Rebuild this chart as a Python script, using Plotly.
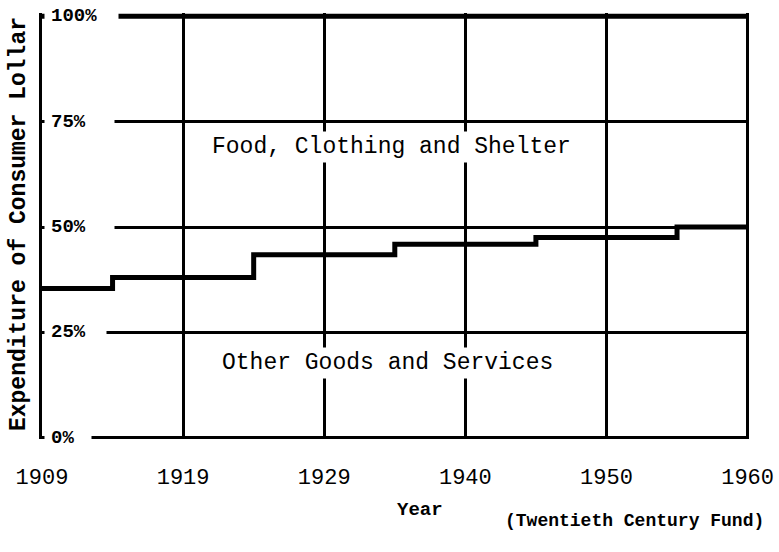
import plotly.graph_objects as go

# ---- data ----
years = ["1909", "1919", "1929", "1940", "1950", "1960"]
other_goods_share = [35.4, 38.0, 43.4, 45.9, 47.5, 50.0]   # % of consumer dollar, stepped
total_share = [100, 100, 100, 100, 100, 100]
y_tick_vals = [0, 25, 50, 75, 100]
y_tick_text = ["0%", "25%", "50%", "75%", "100%"]

x_pos = list(range(len(years)))

FONT = "Liberation Mono, Courier New, monospace"
W, H = 779, 552
L, R = 42, 30
T, B = 12.6, 112.7
plot_h = H - T - B
plot_w = W - L - R

fig = go.Figure()

fig.add_trace(go.Scatter(
    x=x_pos, y=total_share, mode="lines",
    line=dict(color="black", width=5), hoverinfo="skip", showlegend=False))

fig.add_trace(go.Scatter(
    x=x_pos, y=other_goods_share, mode="lines",
    line=dict(color="black", width=5, shape="hvh"), showlegend=False))

# y tick labels drawn inside the plot on white boxes (gridlines start after them)
label_box_w = {0: 34, 25: 49, 50: 57, 75: 57, 100: 61}
for v, t in zip(y_tick_vals, y_tick_text):
    fig.add_annotation(
        x=0, xref="paper", y=v, yref="y", xanchor="left", yanchor="middle",
        xshift=2, text="<b>" + t + "</b>", showarrow=False, align="left",
        width=label_box_w[v], bgcolor="white", borderpad=6,
        font=dict(family=FONT, size=19, color="black"))

# region labels
fig.add_annotation(x=2.48, y=69.0, xref="x", yref="y", text="Food, Clothing and Shelter",
                   showarrow=False, bgcolor="white", borderpad=2, xanchor="center",
                   font=dict(family=FONT, size=23, color="black"))
fig.add_annotation(x=2.45, y=17.8, xref="x", yref="y", text="Other Goods and Services",
                   showarrow=False, bgcolor="white", borderpad=2, xanchor="center",
                   font=dict(family=FONT, size=23, color="black"))

def px_x(p):
    return (p - L) / plot_w

def px_y(p):
    return (H - B - p) / plot_h

# axis titles and source
fig.add_annotation(x=px_x(420), y=px_y(510), xref="paper", yref="paper", text="<b>Year</b>",
                   showarrow=False, xanchor="center", yanchor="middle",
                   font=dict(family=FONT, size=19, color="black"))
fig.add_annotation(x=px_x(19), y=px_y(224), xref="paper", yref="paper",
                   text="<b>Expenditure of Consumer Lollar</b>", textangle=-90,
                   showarrow=False, xanchor="center", yanchor="middle", height=26,
                   font=dict(family=FONT, size=23, color="black"))
fig.add_annotation(x=px_x(634), y=px_y(521), xref="paper", yref="paper",
                   text="<b>(Twentieth Century Fund)</b>",
                   showarrow=False, xanchor="center", yanchor="middle",
                   font=dict(family=FONT, size=18, color="black"))

fig.update_layout(
    width=W, height=H, autosize=False,
    margin=dict(l=L, r=R, t=T, b=B, pad=0, autoexpand=False),
    paper_bgcolor="white", plot_bgcolor="white",
    showlegend=False,
    xaxis=dict(range=[0, 5.01], tickvals=x_pos, ticktext=years,
               showgrid=True, gridcolor="black", gridwidth=2.5,
               zeroline=False, showline=False, ticks="", automargin=False,
               ticklabelstandoff=22,
               tickfont=dict(family=FONT, size=22, color="black")),
    yaxis=dict(range=[-0.3, 100.8], tickvals=y_tick_vals, showticklabels=False,
               showgrid=True, gridcolor="black", gridwidth=2.5, automargin=False,
               zeroline=False, showline=True, linecolor="black", linewidth=3,
               ticks=""),
)

fig.write_html("out.html",
               config={"displayModeBar": False, "responsive": False},
               post_script="document.body.style.margin='0';document.body.style.overflow='hidden';")
